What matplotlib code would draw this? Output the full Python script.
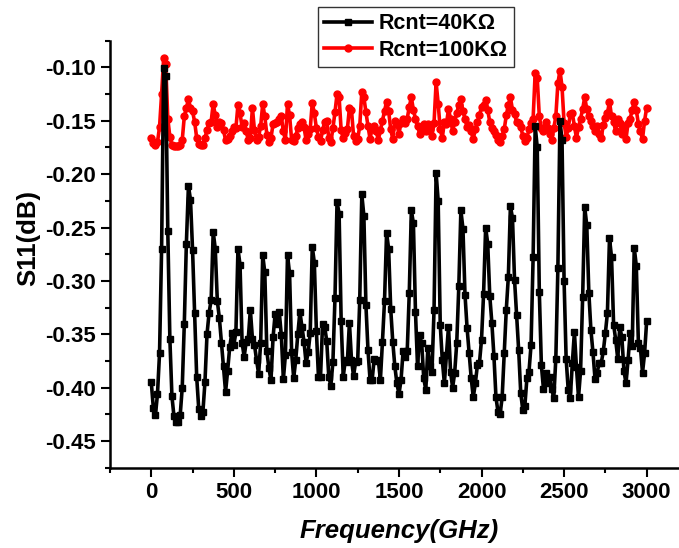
import numpy as np
import matplotlib
matplotlib.use("Agg")
import matplotlib.pyplot as plt
from matplotlib.ticker import MultipleLocator, FormatStrFormatter

plt.rcParams['font.family'] = ['Liberation Sans', 'DejaVu Sans']
plt.rcParams['font.weight'] = 'bold'

# Frequency sweep (GHz), 12.5 GHz step
freq = np.linspace(0, 3000, 241)

# S11 (dB) for Rcnt = 40 kOhm
s11_40k = [
    -0.395, -0.419, -0.426, -0.406, -0.368, -0.270,
    -0.101, -0.108, -0.253, -0.354, -0.408, -0.427, -0.432, -0.432, -0.426, -0.400, -0.340, -0.265,
    -0.211, -0.224, -0.271, -0.330, -0.390, -0.420, -0.427, -0.423, -0.395, -0.350, -0.330, -0.318,
    -0.254, -0.270, -0.319, -0.335, -0.358, -0.380, -0.404, -0.384, -0.362, -0.349, -0.360, -0.348,
    -0.270, -0.285, -0.358, -0.371, -0.357, -0.354, -0.327, -0.354, -0.360, -0.374, -0.387, -0.358,
    -0.276, -0.292, -0.366, -0.382, -0.393, -0.353, -0.331, -0.340, -0.329, -0.351, -0.392, -0.369,
    -0.276, -0.293, -0.367, -0.391, -0.374, -0.350, -0.329, -0.343, -0.357, -0.377, -0.367, -0.349,
    -0.268, -0.283, -0.347, -0.390, -0.390, -0.340, -0.343, -0.356, -0.390, -0.398, -0.376, -0.316,
    -0.226, -0.237, -0.338, -0.390, -0.374, -0.376, -0.339, -0.374, -0.389, -0.376, -0.375, -0.318,
    -0.219, -0.239, -0.323, -0.365, -0.393, -0.393, -0.373, -0.375, -0.374, -0.393, -0.357, -0.319,
    -0.255, -0.270, -0.326, -0.357, -0.380, -0.396, -0.406, -0.393, -0.366, -0.371, -0.366, -0.311,
    -0.234, -0.246, -0.329, -0.380, -0.351, -0.358, -0.391, -0.402, -0.363, -0.380, -0.385, -0.327,
    -0.199, -0.225, -0.341, -0.374, -0.396, -0.369, -0.343, -0.385, -0.400, -0.386, -0.358, -0.305,
    -0.234, -0.251, -0.313, -0.344, -0.368, -0.391, -0.409, -0.396, -0.379, -0.377, -0.355, -0.312,
    -0.250, -0.265, -0.314, -0.339, -0.370, -0.409, -0.423, -0.425, -0.409, -0.368, -0.327, -0.296,
    -0.230, -0.241, -0.299, -0.332, -0.365, -0.405, -0.421, -0.417, -0.391, -0.385, -0.360, -0.278,
    -0.155, -0.175, -0.310, -0.379, -0.401, -0.386, -0.396, -0.390, -0.401, -0.410, -0.373, -0.288,
    -0.150, -0.168, -0.300, -0.373, -0.402, -0.410, -0.377, -0.348, -0.381, -0.409, -0.384, -0.315,
    -0.231, -0.248, -0.311, -0.346, -0.367, -0.392, -0.386, -0.377, -0.377, -0.366, -0.349, -0.330,
    -0.260, -0.278, -0.341, -0.355, -0.373, -0.343, -0.353, -0.384, -0.396, -0.374, -0.349, -0.361,
    -0.269, -0.286, -0.358, -0.363, -0.386, -0.368, -0.338,
]

# S11 (dB) for Rcnt = 100 kOhm
s11_100k = [
    -0.166, -0.171, -0.173, -0.170, -0.156, -0.125,
    -0.091, -0.097, -0.148, -0.165, -0.173, -0.174, -0.174, -0.174, -0.173, -0.168, -0.146, -0.138,
    -0.130, -0.138, -0.141, -0.151, -0.166, -0.172, -0.173, -0.173, -0.166, -0.159, -0.152, -0.151,
    -0.134, -0.145, -0.156, -0.151, -0.152, -0.159, -0.168, -0.167, -0.164, -0.160, -0.156, -0.157,
    -0.135, -0.143, -0.156, -0.152, -0.160, -0.168, -0.166, -0.138, -0.159, -0.168, -0.165, -0.155,
    -0.134, -0.146, -0.163, -0.170, -0.166, -0.153, -0.152, -0.151, -0.148, -0.146, -0.160, -0.168,
    -0.134, -0.145, -0.168, -0.169, -0.164, -0.157, -0.153, -0.151, -0.156, -0.168, -0.162, -0.158,
    -0.133, -0.143, -0.157, -0.165, -0.169, -0.159, -0.151, -0.150, -0.166, -0.170, -0.157, -0.142,
    -0.125, -0.128, -0.159, -0.166, -0.161, -0.158, -0.138, -0.140, -0.164, -0.169, -0.167, -0.155,
    -0.123, -0.128, -0.142, -0.155, -0.167, -0.157, -0.155, -0.160, -0.168, -0.159, -0.150, -0.141,
    -0.132, -0.141, -0.158, -0.167, -0.150, -0.153, -0.162, -0.152, -0.148, -0.152, -0.148, -0.137,
    -0.128, -0.140, -0.148, -0.155, -0.162, -0.157, -0.153, -0.160, -0.153, -0.158, -0.164, -0.152,
    -0.114, -0.134, -0.158, -0.166, -0.151, -0.153, -0.139, -0.148, -0.160, -0.151, -0.143, -0.135,
    -0.130, -0.141, -0.148, -0.156, -0.154, -0.160, -0.167, -0.158, -0.151, -0.145, -0.137, -0.135,
    -0.131, -0.140, -0.151, -0.157, -0.160, -0.163, -0.168, -0.170, -0.164, -0.158, -0.145, -0.135,
    -0.128, -0.140, -0.144, -0.151, -0.152, -0.156, -0.164, -0.169, -0.166, -0.158, -0.152, -0.148,
    -0.105, -0.110, -0.146, -0.157, -0.160, -0.151, -0.157, -0.162, -0.168, -0.157, -0.146, -0.115,
    -0.103, -0.118, -0.152, -0.165, -0.157, -0.144, -0.143, -0.155, -0.166, -0.156, -0.148, -0.139,
    -0.128, -0.139, -0.146, -0.150, -0.155, -0.160, -0.155, -0.162, -0.166, -0.154, -0.147, -0.143,
    -0.132, -0.146, -0.151, -0.160, -0.148, -0.152, -0.162, -0.155, -0.167, -0.152, -0.148, -0.140,
    -0.132, -0.140, -0.153, -0.160, -0.167, -0.150, -0.138,
]

labels = ["Rcnt=40K\u03a9", "Rcnt=100K\u03a9"]
x_ticks = [0, 500, 1000, 1500, 2000, 2500, 3000]

fig = plt.figure(figsize=(6.79, 5.48), dpi=100)
ax = fig.add_axes([110 / 679, 1 - 467.7 / 548, 1 - 110 / 679, (467.7 - 40.7) / 548])

l_red, = ax.plot(freq, s11_100k, color='#ff0000', lw=2.6, marker='o', ms=5.0,
                 label=labels[1], zorder=2)
l_blk, = ax.plot(freq, s11_40k, color='black', lw=2.6, marker='s', ms=4.6,
                 label=labels[0], zorder=3)

ax.set_xlim(-250, 3196)
ax.set_ylim(-0.475, -0.075)
ax.set_xticks(x_ticks)
ax.xaxis.set_minor_locator(MultipleLocator(250))
ax.yaxis.set_major_locator(MultipleLocator(0.05))
ax.yaxis.set_minor_locator(MultipleLocator(0.025))
ax.yaxis.set_major_formatter(FormatStrFormatter('%.2f'))

for side in ('top', 'right'):
    ax.spines[side].set_visible(False)
for side in ('left', 'bottom'):
    ax.spines[side].set_linewidth(1.8)

ax.tick_params(which='major', direction='out', length=6.5, width=1.5,
               labelsize=16, pad=3.5)
ax.tick_params(which='minor', direction='out', length=3.6, width=1.5)
for lab in ax.get_xticklabels() + ax.get_yticklabels():
    lab.set_fontweight('bold')

ax.set_xlabel("Frequency(GHz)", fontsize=18.5, fontweight='bold', style='italic')
ax.set_ylabel("S11(dB)", fontsize=18.5, fontweight='bold')
ax.xaxis.set_label_coords((399 - 110) / 569, (467.7 - 531) / 427)
ax.yaxis.set_label_coords((28.6 - 110) / 569, (467.7 - 238) / 427)
ax.xaxis.label.set_va('center')
ax.yaxis.label.set_va('center')

leg = fig.legend(handles=[l_blk, l_red], labels=labels, loc='upper left',
                 bbox_to_anchor=(318 / 679, 1 - 7 / 548), borderaxespad=0,
                 numpoints=1, prop={'weight': 'bold', 'size': 15.5},
                 handlelength=2.2, handletextpad=0.3, labelspacing=0.25,
                 borderpad=0.3, fancybox=False, framealpha=1, edgecolor='#333333')
leg.get_frame().set_linewidth(1.0)

fig.savefig("out.png", dpi=100)
